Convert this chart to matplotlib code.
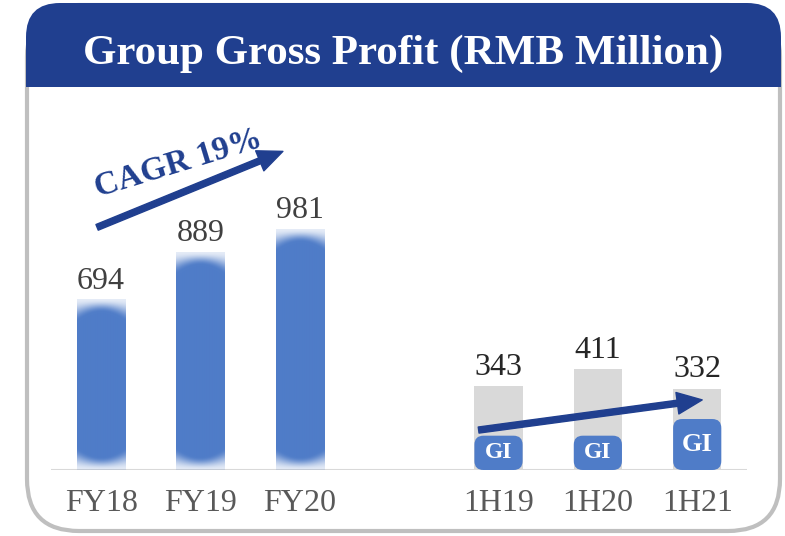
import numpy as np
import matplotlib.pyplot as plt
from matplotlib.patches import FancyBboxPatch, Rectangle

# data
categories = ['FY18', 'FY19', 'FY20', '1H19', '1H20', '1H21']
positions = [0, 1, 2, 4, 5, 6]
fy_values = [694, 889, 981]
h_values = [343, 411, 332]
gi_values = [140, 140, 208]   # GI portion (not labelled)

title = 'Group Gross Profit (RMB Million)'
cagr_text = 'CAGR 19%'

navy = '#203F8F'
blue = '#4F7CC8'
grey_bar = '#D9D9D9'
serif = ['Liberation Serif', 'DejaVu Serif']

W, H = 785, 536
fig = plt.figure(figsize=(W / 100, H / 100), dpi=100)

# background / frame in pixel coords
bg = fig.add_axes([0, 0, 1, 1], zorder=0)
bg.set_xlim(0, W)
bg.set_ylim(H, 0)
bg.axis('off')

frame = FancyBboxPatch((27, 5), 753, 526, boxstyle='round,pad=0,rounding_size=52',
                       fc='white', ec='#BFBFBF', lw=3)
bg.add_patch(frame)
header = FancyBboxPatch((26, 3), 755, 160, boxstyle='round,pad=0,rounding_size=34',
                        fc=navy, ec='none')
bg.add_patch(header)
header.set_clip_path(Rectangle((0, 0), W, 87, transform=bg.transData))
bg.text(403, 54, title, color='white', fontsize=31, fontweight='bold',
        family=serif, ha='center', va='center')

# main chart axes: baseline at y=470px, top at 95px
ax_bottom = (H - 470) / H
ax_height = 375 / H
ax = fig.add_axes([51.4 / W, ax_bottom, (746.9 - 51.4) / W, ax_height], zorder=1)
ax.patch.set_alpha(0)
ymax = 1530
ax.set_xlim(-0.5, 6.5)
ax.set_ylim(0, ymax)
px_per_unit = 375 / ymax
for s in ax.spines.values():
    s.set_visible(False)
ax.axhline(0, color='#D9D9D9', lw=1.5, zorder=1)
ax.set_yticks([])
ax.set_xticks(positions)
ax.set_xticklabels(categories, family=serif, fontsize=23, color='#595959')
ax.tick_params(axis='x', length=0, pad=14)

bw = 0.485


def soft_bar(x, h):
    # bar with soft, rounded fade at both ends
    ny = int(h * px_per_unit) + 1
    nx = 48
    yy = (np.arange(ny) + 0.5)[:, None]
    u = (np.arange(nx) + 0.5)[None, :] / nx
    L = 13 + 10 * (2 * u - 1) ** 2
    d = np.minimum(yy, ny - yy)
    t = np.clip(d / L, 0, 1)
    a = 0.15 + 0.85 * (t * t * (3 - 2 * t))
    rgba = np.zeros((ny, nx, 4))
    rgba[..., :3] = plt.matplotlib.colors.to_rgb(blue)
    rgba[..., 3] = a
    ax.imshow(rgba, extent=(x - bw / 2, x + bw / 2, 0, h), origin='lower',
              aspect='auto', interpolation='bilinear', zorder=2)


for x, v in zip(positions[:3], fy_values):
    soft_bar(x, v)
    ax.annotate(str(v), (x, v), xytext=(0, 3), textcoords='offset points',
                ha='center', va='bottom', family=serif, fontsize=23, color='#404040')

ax.bar(positions[3:], h_values, width=bw, color=grey_bar, zorder=2)
for x, v in zip(positions[3:], h_values):
    ax.annotate(str(v), (x, v), xytext=(0, 3), textcoords='offset points',
                ha='center', va='bottom', family=serif, fontsize=23, color='#262626')

# rounded GI bars
x_units_per_px = 1 / 99.3
y_units_per_px = 1 / px_per_unit
gi_sizes = [17, 17, 19]
for x, g, fs in zip(positions[3:], gi_values, gi_sizes):
    p = FancyBboxPatch((x - bw / 2, 0), bw, g,
                       boxstyle='round,pad=0,rounding_size=%f' % (9 * x_units_per_px),
                       mutation_aspect=y_units_per_px / x_units_per_px,
                       fc=blue, ec='none', zorder=3)
    ax.add_patch(p)
    ax.text(x, g / 2, 'GI', ha='center', va='center', family=serif,
            fontsize=fs, fontweight='bold', color='white', zorder=4)

# arrows
arrow_style = 'simple,head_length=0.9,head_width=0.78,tail_width=0.22'
ax.annotate('', xy=(1.83, 1300), xytext=(-0.04, 990),
            arrowprops=dict(arrowstyle=arrow_style, mutation_scale=20,
                            fc=navy, ec=navy, shrinkA=0, shrinkB=0), zorder=5)
ax.annotate('', xy=(6.05, 286), xytext=(3.80, 163),
            arrowprops=dict(arrowstyle=arrow_style, mutation_scale=20,
                            fc=navy, ec=navy, shrinkA=0, shrinkB=0), zorder=5)

bg.text(178, 164, cagr_text, color=navy, fontsize=24, fontweight='bold',
        family=serif, rotation=17, ha='center', va='center', rotation_mode='anchor')

fig.savefig('out.png', dpi=100)
